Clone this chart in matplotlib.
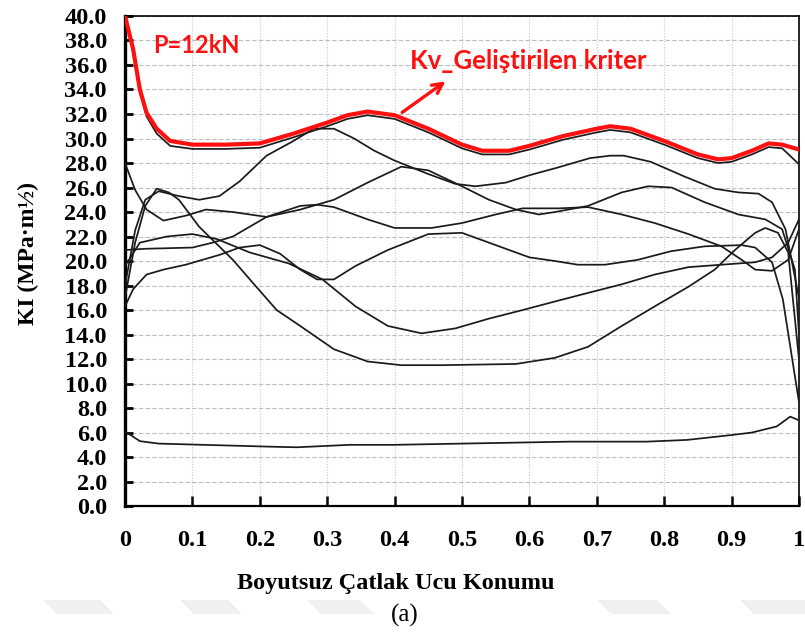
import matplotlib
matplotlib.use("Agg")
import matplotlib.pyplot as plt
from matplotlib.patches import Polygon
import numpy as np

# ------ data ------

# red criterion curve
x_kv = [0, 0.012, 0.022, 0.032, 0.047, 0.067, 0.1, 0.15, 0.2, 0.25, 0.3, 0.33, 0.36, 0.4, 0.45,
        0.5, 0.53, 0.57, 0.6, 0.65, 0.7, 0.72, 0.75, 0.8, 0.85, 0.88, 0.9, 0.93, 0.955, 0.975, 1.0]
y_kv = [40.0, 37.3, 34.0, 32.1, 30.8, 29.8, 29.5, 29.5, 29.6, 30.4, 31.3, 31.9, 32.2, 31.9, 30.8,
        29.5, 29.0, 29.0, 29.4, 30.2, 30.8, 31.0, 30.8, 29.8, 28.7, 28.3, 28.4, 29.0, 29.6, 29.5, 29.1]

# black curves (x, y)
x_c1 = [0, 0.012, 0.022, 0.032, 0.047, 0.067, 0.1, 0.15, 0.2, 0.25, 0.3, 0.33, 0.36, 0.4, 0.45,
        0.5, 0.53, 0.57, 0.6, 0.65, 0.7, 0.72, 0.75, 0.8, 0.85, 0.88, 0.9, 0.93, 0.955, 0.975, 1.0]
y_c1 = [40.0, 37.1, 33.8, 31.8, 30.4, 29.4, 29.15, 29.15, 29.25, 30.1, 31.0, 31.6, 31.9, 31.6, 30.5,
        29.2, 28.7, 28.7, 29.1, 29.9, 30.5, 30.7, 30.5, 29.5, 28.4, 28.0, 28.1, 28.7, 29.3, 29.2, 27.9]

x_c2 = [0, 0.015, 0.03, 0.05, 0.08, 0.11, 0.14, 0.17, 0.21, 0.25, 0.28, 0.31, 0.34, 0.37, 0.4,
        0.45, 0.49, 0.52, 0.565, 0.6, 0.64, 0.69, 0.72, 0.74, 0.78, 0.83, 0.875, 0.91, 0.94, 0.96,
        0.98, 1.0]
y_c2 = [18.0, 22.5, 25.0, 25.7, 25.3, 25.0, 25.3, 26.5, 28.6, 29.8, 30.8, 30.8, 30.0, 29.0, 28.2,
        27.1, 26.3, 26.1, 26.4, 27.0, 27.6, 28.4, 28.6, 28.6, 28.1, 26.9, 25.9, 25.6, 25.5, 24.8,
        22.6, 17.0]

x_c3 = [0, 0.015, 0.032, 0.057, 0.09, 0.12, 0.16, 0.21, 0.26, 0.31, 0.36, 0.41, 0.45, 0.5, 0.54,
        0.58, 0.614, 0.638, 0.687, 0.737, 0.776, 0.811, 0.86, 0.91, 0.95, 0.975, 0.994, 1.0]
y_c3 = [28.0, 25.8, 24.2, 23.3, 23.7, 24.2, 24.0, 23.6, 24.2, 25.0, 26.4, 27.7, 27.4, 26.1, 25.0,
        24.2, 23.8, 24.0, 24.5, 25.6, 26.1, 26.0, 24.8, 23.8, 23.4, 22.6, 19.3, 14.0]

x_c4 = [0, 0.03, 0.1, 0.13, 0.16, 0.21, 0.26, 0.285, 0.31, 0.36, 0.4, 0.455, 0.5, 0.55, 0.59,
        0.644, 0.687, 0.737, 0.786, 0.836, 0.885, 0.915, 0.935, 0.96, 0.984, 1.0]
y_c4 = [20.9, 21.0, 21.1, 21.5, 22.0, 23.6, 24.5, 24.6, 24.4, 23.4, 22.7, 22.7, 23.1, 23.8, 24.3,
        24.3, 24.4, 23.8, 23.1, 22.2, 21.2, 20.1, 19.3, 19.2, 20.1, 22.6]

x_c5 = [0, 0.015, 0.03, 0.047, 0.065, 0.08, 0.11, 0.16, 0.19, 0.225, 0.26, 0.31, 0.36, 0.41, 0.47,
        0.58, 0.638, 0.687, 0.737, 0.786, 0.836, 0.875, 0.905, 0.935, 0.95, 0.969, 0.984, 1.0]
y_c5 = [17.0, 21.5, 24.5, 25.9, 25.6, 25.0, 22.8, 20.1, 18.2, 16.0, 14.7, 12.8, 11.8, 11.5, 11.5,
        11.6, 12.1, 13.0, 14.7, 16.3, 17.9, 19.3, 20.9, 22.3, 22.7, 22.3, 20.7, 12.0]

x_c6 = [0, 0.012, 0.032, 0.057, 0.09, 0.14, 0.17, 0.2, 0.23, 0.26, 0.285, 0.31, 0.342, 0.39, 0.45,
        0.5, 0.54, 0.6, 0.638, 0.672, 0.712, 0.761, 0.81, 0.86, 0.915, 0.935, 0.96, 0.976, 0.99, 1.0]
y_c6 = [16.3, 17.7, 18.9, 19.3, 19.7, 20.5, 21.1, 21.3, 20.6, 19.3, 18.5, 18.5, 19.6, 20.9, 22.2,
        22.3, 21.5, 20.3, 20.0, 19.7, 19.7, 20.1, 20.8, 21.2, 21.3, 21.1, 19.9, 16.9, 12.0, 8.5]

x_c7 = [0, 0.022, 0.062, 0.1, 0.136, 0.185, 0.243, 0.293, 0.342, 0.39, 0.44, 0.49, 0.54, 0.59,
        0.638, 0.687, 0.737, 0.786, 0.836, 0.885, 0.935, 0.96, 0.984, 1.0]
y_c7 = [19.6, 21.5, 22.0, 22.2, 21.8, 20.7, 19.8, 18.5, 16.3, 14.7, 14.1, 14.5, 15.3, 16.0,
        16.7, 17.4, 18.1, 18.9, 19.5, 19.7, 19.9, 20.3, 21.5, 23.4]

x_c8 = [0, 0.022, 0.05, 0.116, 0.215, 0.255, 0.334, 0.4, 0.5, 0.6, 0.66, 0.774, 0.834, 0.9, 0.93,
        0.967, 0.987, 1.0]
y_c8 = [6.1, 5.3, 5.1, 5.0, 4.85, 4.8, 5.0, 5.0, 5.1, 5.2, 5.26, 5.26, 5.4, 5.8, 6.0, 6.5, 7.3, 7.0]

black_curves = [(x_c1, y_c1), (x_c2, y_c2), (x_c3, y_c3), (x_c4, y_c4),
                (x_c5, y_c5), (x_c6, y_c6), (x_c7, y_c7), (x_c8, y_c8)]

x_ticks = np.round(np.arange(0, 1.01, 0.1), 1)
x_tick_labels = ["0"] + ["%.1f" % v for v in x_ticks[1:-1]] + ["1"]
y_ticks = np.arange(0, 40.1, 2)

# ------ plot ------

serif = "Liberation Serif"
fig = plt.figure(figsize=(8.05, 6.39), dpi=100)

# faint slanted bars of the page background
for x0, x1 in [(43, 100), (180, 228), (307, 360), (597, 657), (740, 805)]:
    pts = [(x0 / 805, 1 - 600 / 639), (x1 / 805, 1 - 600 / 639),
           ((x1 + 14) / 805, 1 - 614 / 639), ((x0 + 14) / 805, 1 - 614 / 639)]
    fig.patches.append(Polygon(pts, closed=True, transform=fig.transFigure,
                               facecolor="#f0f0f0", edgecolor="none", zorder=0))

ax = fig.add_axes([0.1553, 0.208, 0.8372, 0.767])

for xs, ys in black_curves:
    ax.plot(xs, ys, color="#1a1a1a", lw=1.25, solid_joinstyle="round", zorder=3)
ax.plot(x_kv, y_kv, color="#ff1010", lw=3.0, solid_joinstyle="round", zorder=4)

ax.set_xlim(0, 1)
ax.set_ylim(0, 40)
ax.set_xticks(x_ticks)
ax.set_xticklabels(x_tick_labels)
ax.set_yticks(y_ticks)
ax.set_yticklabels(["%.1f" % v for v in y_ticks])

for lab in ax.get_xticklabels() + ax.get_yticklabels():
    lab.set_fontfamily(serif)
    lab.set_fontweight("bold")
    lab.set_fontsize(17.5)

ax.tick_params(axis="x", direction="in", length=7, width=1.8, pad=17)
ax.tick_params(axis="y", direction="in", length=6, width=2.0, pad=13)

ax.grid(axis="y", color="#bdbdbd", lw=0.8, ls=(0, (4, 2)))
ax.grid(axis="x", color="#c8c8c8", lw=0.8, ls=(0, (1, 1.5)))
ax.set_axisbelow(True)

ax.spines["left"].set_linewidth(2.4)
ax.spines["bottom"].set_linewidth(1.6)
ax.spines["top"].set_linewidth(1.2)
ax.spines["right"].set_linewidth(1.2)

ax.set_xlabel("Boyutsuz Çatlak Ucu Konumu", fontfamily=serif, fontweight="bold", fontsize=17.5)
ax.xaxis.set_label_coords(0.402, -0.137)
ax.set_ylabel("KI (MPa·m½)", fontfamily=serif, fontweight="bold", fontsize=17)
ax.yaxis.label.set_va("center")
ax.yaxis.set_label_coords(-0.143, 0.516)

ax.text(0.042, 37.6, "P=12kN", color="#ff1010", fontfamily="Lato", fontweight="bold",
        fontsize=17, va="center", ha="left")
ax.text(0.423, 36.3, "Kv_Geliştirilen kriter", color="#ff1010", fontfamily="Lato",
        fontweight="bold", fontsize=18.5, va="center", ha="left")
ax.annotate("", xy=(0.479, 34.8), xytext=(0.408, 32.0),
            arrowprops=dict(arrowstyle="->", color="#ff1010", lw=2.4,
                            mutation_scale=18), zorder=5)

fig.text(405 / 805, 1 - 615 / 639, "(a)", fontfamily=serif, fontsize=18,
         ha="center", va="center")

fig.savefig("out.png", dpi=100)
